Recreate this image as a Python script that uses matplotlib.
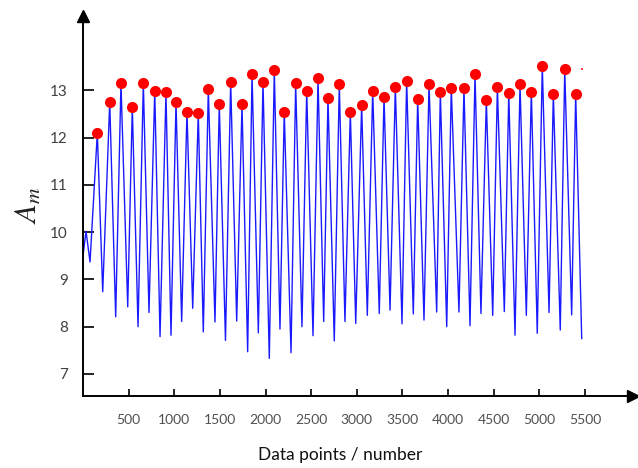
import matplotlib.pyplot as plt
import numpy as np

plt.rcParams["font.family"] = ["Lato", "DejaVu Sans"]
plt.rcParams["mathtext.fontset"] = "stix"

# Peaks (red dots): data point number and A_m value
peak_x = [157, 293, 416, 540, 661, 786, 909, 1019, 1139, 1263, 1373,
          1493, 1618, 1742, 1852, 1972, 2096, 2205, 2330, 2451, 2575, 2684,
          2808, 2929, 3053, 3174, 3298, 3422, 3546, 3667, 3791, 3915, 4035,
          4174, 4295, 4419, 4540, 4665, 4788, 4912, 5032, 5153, 5278, 5398]
peak_y = [12.10, 12.75, 13.15, 12.65, 13.15, 12.99, 12.96, 12.75, 12.55, 12.52, 13.02,
          12.71, 13.18, 12.70, 13.34, 13.18, 13.42, 12.55, 13.15, 12.99, 13.25, 12.84,
          13.13, 12.54, 12.68, 12.99, 12.86, 13.07, 13.20, 12.81, 13.13, 12.96, 13.05,
          13.05, 13.34, 12.79, 13.07, 12.94, 13.13, 12.97, 13.52, 12.92, 13.44, 12.92]

# Troughs between the peaks
trough_x = [216, 358, 490, 603, 723, 844, 964, 1081, 1202, 1318, 1446,
            1561, 1684, 1804, 1921, 2041, 2158, 2279, 2399, 2520, 2637, 2753,
            2870, 2988, 3115, 3246, 3364, 3495, 3619, 3736, 3875, 3985, 4119,
            4240, 4360, 4489, 4616, 4733, 4857, 4977, 5106, 5229, 5354]
trough_y = [8.74, 8.21, 8.42, 8.00, 8.30, 7.79, 7.82, 8.11, 8.39, 7.89, 8.10,
            7.71, 8.12, 7.47, 7.87, 7.33, 7.95, 7.45, 8.00, 7.81, 8.11, 7.70,
            8.11, 8.07, 8.24, 8.28, 8.35, 8.06, 8.27, 8.14, 8.31, 8.00, 8.31,
            8.02, 8.28, 8.24, 8.32, 7.82, 8.24, 7.86, 8.30, 7.93, 8.25]

# start wiggle and end of the record
start_x = [0, 33, 77]
start_y = [9.50, 10.02, 9.37]
end_x = [5464]
end_y = [7.75]

# stray marker at the right end
stray_x = [5464]
stray_y = [13.44]

x_ticks = [500, 1000, 1500, 2000, 2500, 3000, 3500, 4000, 4500, 5000, 5500]
y_ticks = [7, 8, 9, 10, 11, 12, 13]

# assemble the signal from the read extrema
line_x = np.array(start_x + peak_x + trough_x + end_x, dtype=float)
line_y = np.array(start_y + peak_y + trough_y + end_y, dtype=float)
order = np.argsort(line_x)
line_x, line_y = line_x[order], line_y[order]

fig = plt.figure(figsize=(6.38, 4.68), dpi=100)
W, H = 638, 468
left, right, top, bottom = 83, 633, 16, 396
ax = fig.add_axes([left / W, 1 - bottom / H, (right - left) / W, (bottom - top) / H])

ax.plot(line_x, line_y, color="#1a1aff", linewidth=1.0, zorder=2)
ax.plot(peak_x, peak_y, "o", color="#ff0000", markersize=8, markeredgewidth=0, zorder=3)
ax.plot(stray_x, stray_y, "s", color="#ff4040", markersize=1.5, markeredgewidth=0, zorder=3)

px_per_unit_x = 502 / 5500
ax.set_xlim(0, (right - left) / px_per_unit_x)
px_per_unit_y = 47.28
ax.set_ylim(13 - (bottom - 90.3) / px_per_unit_y, 13 + (90.3 - top) / px_per_unit_y)

for side in ("top", "right"):
    ax.spines[side].set_visible(False)
for side in ("left", "bottom"):
    ax.spines[side].set_linewidth(1.4)
    ax.spines[side].set_color("black")

ax.set_xticks(x_ticks)
ax.set_yticks(y_ticks)
ax.tick_params(axis="x", direction="in", length=5, width=1.2, pad=13,
               labelsize=10, labelcolor="#505050")
ax.tick_params(axis="y", direction="in", length=8, width=1.2, pad=11,
               labelsize=11, labelcolor="#404040")

# arrow heads at the ends of the axes
ax.plot(0, 1, marker="^", color="black", markersize=9, transform=ax.transAxes,
        clip_on=False, zorder=5)
ax.plot(1, 0, marker=">", color="black", markersize=9, transform=ax.transAxes,
        clip_on=False, zorder=5)

fig.text(340 / W, 1 - 455 / H, "Data points / number", ha="center", va="center",
         fontsize=12.5, color="#111111")
fig.text(28 / W, 1 - 205 / H, r"$A_m$", rotation=90, ha="center", va="center",
         fontsize=22, color="#222222")

fig.savefig("out.png", dpi=100)
